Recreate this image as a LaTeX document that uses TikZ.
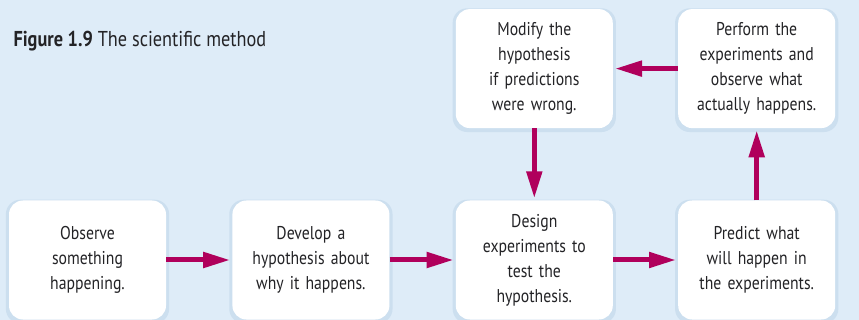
\documentclass[tikz,border=0pt]{standalone}
\usepackage{fontspec}
\setmainfont[FakeStretch=0.85]{PT Sans}
\usetikzlibrary{arrows.meta,positioning,shadows}
\definecolor{bgblue}{RGB}{222,236,248}
\definecolor{arrowred}{RGB}{176,0,92}
\definecolor{textgray}{RGB}{35,35,38}
\definecolor{shadowblue}{RGB}{165,195,220}

\begin{document}
\begin{tikzpicture}[x=1pt,y=-1pt] % y grows downwards, like the pixels
\tikzset{stepbox/.style={rectangle, rounded corners=14pt, fill=white, minimum width=157pt, minimum height=119pt, text width=150pt, align=center, inner sep=0pt, font=\fontsize{18.5}{25}\selectfont, text=textgray, drop shadow={shadow xshift=0pt, shadow yshift=-1.5pt, shadow scale=1.04, fill=shadowblue, opacity=.3}}} % white boxes
\tikzset{flow/.style={draw=arrowred, line width=5pt, -{Triangle[length=27pt,width=15pt]}, shorten >=2pt}} % thick arrows
\tikzset{node distance=72pt and 66pt}
\fill[bgblue] (0,0) rectangle (859,320); % background
\node[anchor=base west, text=textgray, font=\fontsize{21.5}{24}\selectfont] (caption) at (10,47) {\textbf{Figure 1.9} The scientific method};
\node[stepbox] (observe) at (87.5,260) {Observe\\ something\\ happening.};
\node[stepbox, right=of observe] (develop) {Develop a\\ hypothesis about\\ why it happens.};
\node[stepbox, right=of develop] (design) {Design\\ experiments to\\ test the\\ hypothesis.};
\node[stepbox, right=65pt of design] (predict) {Predict what\\ will happen in\\ the experiments.};
\node[stepbox, above=of predict] (perform) {Perform the\\ experiments and\\ observe what\\ actually happens.};
\node[stepbox, above=of design] (modify) {Modify the\\ hypothesis\\ if predictions\\ were wrong.};
\draw[flow] (observe) -- (develop);
\draw[flow] (develop) -- (design);
\draw[flow] (design) -- (predict);
\draw[flow] (predict) -- (perform);
\draw[flow] (perform) -- (modify);
\draw[flow] (modify) -- (design);
\end{tikzpicture}
\end{document}
